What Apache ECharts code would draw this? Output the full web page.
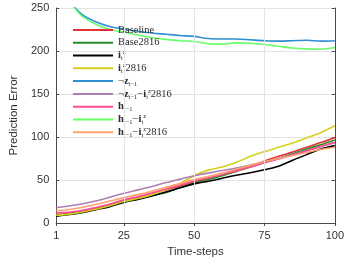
<!DOCTYPE html>
<html>
<head>
<meta charset="utf-8">
<script src="https://cdn.jsdelivr.net/npm/echarts@6/dist/echarts.min.js"></script>
<style>html,body{margin:0;padding:0;background:#fff}#c{width:347px;height:263px}</style>
</head>
<body>
<div id="c"></div>
<script>
const timeSteps = [1,5,10,15,20,25,30,35,40,45,50,55,60,65,70,75,80,85,90,95,100];
const xTicks = [1,25,50,75,100];
const yTicks = [0,50,100,150,200,250];

const baseline      = [10,11,13.5,17,21,26,29.5,34,38.5,43,48,51.5,56,61,66,72,77.5,82.5,88,93.5,99.5];
const base2816      = [9,10,12.5,16,20,24.5,28,32,35.5,41,46.5,50.5,55,60,65,70.5,75,80.5,86,91,96.5];
const iz            = [8,9.5,12,15.5,19,24,27.5,31.5,36,41,45.5,48.5,52,55.5,58.5,62,66,73,79.5,86,90];
const iz2816        = [9,10,12.5,16,20,25,28.5,33,39,46,55,61.5,65,70.5,77.5,83,88,93,99,105,113];
const notZ          = [275,260,243,234,228.5,225.5,223,221,219.5,218,217,214.5,214,214,213,212,211.5,212,212.5,211.5,212];
const notZiz2816    = [18,19.5,22,25.5,30,34.5,38.5,42.5,47,51,55,58,61,64,67.5,71,75,79.5,84,89,93];
const hPrev         = [12,12.5,14.5,18,22,27,30.5,35,39.5,44,49,52.5,56.5,60.5,65,70,74.5,79,84,89,94];
const hPrevIz       = [275,260,241,231,225,222,218.5,215.5,213.5,212,211,208.5,208,209.5,209,207.5,205.5,203.5,202.5,202,204];
const hPrevIz2816   = [14.5,15.5,18,21.5,25.5,29.5,33,37,41.5,46,50.5,54,58,62.5,67,71.5,75,78.5,82,85.5,88];

const seriesNames = ['Baseline','Base2816','iz','iz2816','notZ','notZiz2816','hPrev','hPrevIz','hPrevIz2816'];
const seriesValues = [baseline,base2816,iz,iz2816,notZ,notZiz2816,hPrev,hPrevIz,hPrevIz2816];
const seriesColors = ['#e03434','#2a8c2a','#000000','#d2d21e','#2f8fd2','#b07fb2','#ff4d94','#66ff66','#ffa070'];
const legendLabels = [
  '{n|Baseline}',
  '{n|Base2816}',
  '{b|i}{sub|t}{sup|z}',
  '{b|i}{sub|t}{sup|z}{n|2816}',
  '{n|¬}{b|z}{sub|t−1}',
  '{n|¬}{b|z}{sub|t−1}{n|−}{b|i}{sub|t}{sup|z}{n|2816}',
  '{b|h}{sub|t−1}',
  '{b|h}{sub|t−1}{n|−}{b|i}{sub|t}{sup|z}',
  '{b|h}{sub|t−1}{n|−}{b|i}{sub|t}{sup|z}{n|2816}'
];

const chart = echarts.init(document.getElementById('c'), null, {renderer:'canvas'});
const serif = 'Liberation Serif';
const sans = 'Liberation Sans';
const LH = 12.8;

const series = seriesNames.map((nm, i) => ({
  name: nm,
  type: 'line',
  data: timeSteps.map((t, k) => [t, seriesValues[i][k]]),
  symbol: 'none',
  smooth: 0.3,
  clip: true,
  lineStyle: {width: 1.6, color: seriesColors[i]},
  itemStyle: {color: seriesColors[i]},
  z: 3
}));
// vertical grid lines at interior x ticks
series.unshift({
  name: '_grid',
  type: 'line',
  data: [],
  z: 1,
  silent: true,
  markLine: {
    silent: true, symbol: 'none', label: {show: false},
    lineStyle: {color: '#e4e4e4', type: 'solid', width: 1},
    data: xTicks.slice(1, -1).map(v => ({xAxis: v}))
  }
});

const axisLineStyle = {color: '#4a4a4a', width: 1};
chart.setOption({
  animation: false,
  backgroundColor: '#fff',
  grid: {left: 45, right: 11, top: 8, bottom: 36, containLabel: false},
  legend: {
    data: seriesNames,
    orient: 'vertical',
    left: 68,
    top: 18.5,
    itemWidth: 40,
    itemHeight: 2,
    itemGap: 0,
    icon: 'rect',
    formatter: name => legendLabels[seriesNames.indexOf(name)],
    textStyle: {
      color: '#2a2a2a',
      fontFamily: serif,
      fontSize: 10.5,
      lineHeight: LH,
      rich: {
        n: {fontFamily: serif, fontSize: 10.5, lineHeight: LH, color: '#2a2a2a'},
        b: {fontFamily: serif, fontSize: 10.5, fontWeight: 'bold', lineHeight: LH, color: '#2a2a2a'},
        sub: {fontFamily: serif, fontSize: 6.5, lineHeight: 7, verticalAlign: 'bottom', color: '#2a2a2a'},
        sup: {fontFamily: serif, fontSize: 6.5, lineHeight: 7, verticalAlign: 'top', color: '#2a2a2a'}
      }
    }
  },
  xAxis: [{
    type: 'value', min: 1, max: 100, position: 'bottom',
    name: 'Time-steps', nameLocation: 'middle', nameGap: 23,
    nameTextStyle: {fontFamily: sans, fontSize: 11.5, color: '#333'},
    axisLine: {show: true, lineStyle: axisLineStyle},
    axisTick: {show: true, inside: true, length: 3, customValues: xTicks, lineStyle: axisLineStyle},
    axisLabel: {customValues: xTicks, fontFamily: sans, fontSize: 11, color: '#333', margin: 7},
    splitLine: {show: false}
  }, {
    type: 'value', min: 1, max: 100, position: 'top',
    axisLine: {show: true, lineStyle: axisLineStyle},
    axisTick: {show: true, inside: true, length: 3, customValues: xTicks, lineStyle: axisLineStyle},
    axisLabel: {show: false},
    splitLine: {show: false}
  }],
  yAxis: [{
    type: 'value', min: 0, max: 250, interval: 50, position: 'left',
    name: 'Prediction Error', nameLocation: 'middle', nameGap: 32, nameRotate: 90,
    nameTextStyle: {fontFamily: sans, fontSize: 11.5, color: '#333'},
    axisLine: {show: true, lineStyle: axisLineStyle},
    axisTick: {show: true, inside: true, length: 3, lineStyle: axisLineStyle},
    axisLabel: {fontFamily: sans, fontSize: 11, color: '#333', margin: 7,
      formatter: v => yTicks.includes(v) ? String(v) : ''},
    splitLine: {show: true, lineStyle: {color: '#e4e4e4', width: 1}}
  }, {
    type: 'value', min: 0, max: 250, interval: 50, position: 'right',
    axisLine: {show: true, lineStyle: axisLineStyle},
    axisTick: {show: true, inside: true, length: 3, lineStyle: axisLineStyle},
    axisLabel: {show: false},
    splitLine: {show: false}
  }],
  series: series
});
</script>
</body>
</html>
